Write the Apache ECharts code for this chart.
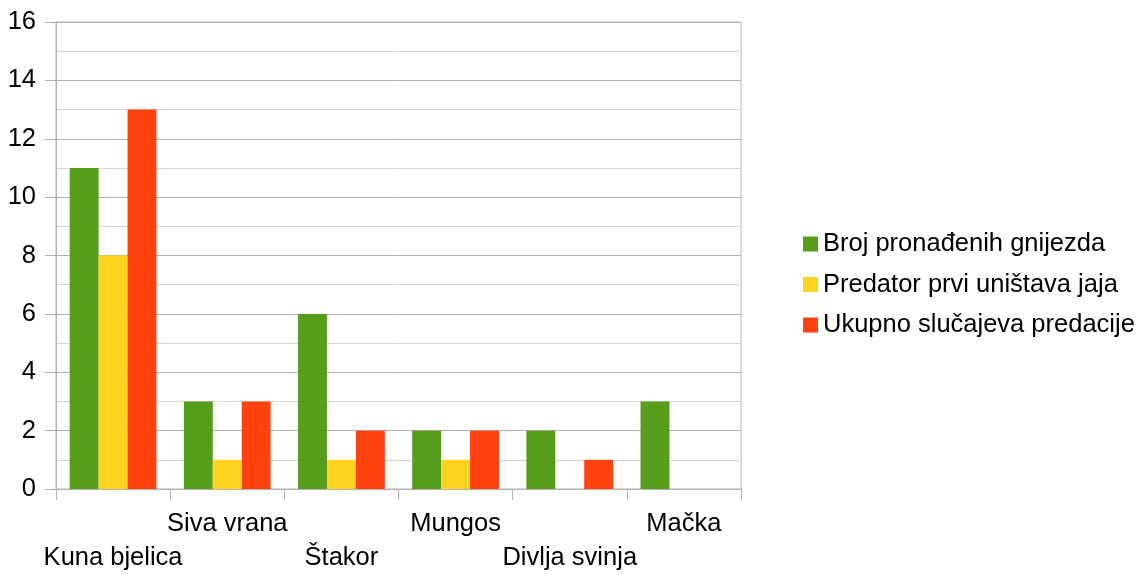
<!DOCTYPE html>
<html><head><meta charset="utf-8">
<script src="https://cdn.jsdelivr.net/npm/echarts@6/dist/echarts.min.js"></script>
<style>html,body{margin:0;padding:0;background:#fff}#c{width:1145px;height:575px}</style>
</head><body><div id="c"></div>
<script>
const categories = ['Kuna bjelica', 'Siva vrana', 'Štakor', 'Mungos', 'Divlja svinja', 'Mačka'];
const seriesNames = ['Broj pronađenih gnijezda', 'Predator prvi uništava jaja', 'Ukupno slučajeva predacije'];
const brojGnijezda = [11, 3, 6, 2, 2, 3];
const prviUnistava = [8, 1, 1, 1, 0, 0];
const ukupnoPredacije = [13, 3, 2, 2, 1, 0];
const colors = ['#579d1c', '#ffd320', '#ff420e'];
const font = 'Liberation Sans';
const grid = '#b3b3b3';

const chart = echarts.init(document.getElementById('c'), null, {renderer: 'canvas'});
const values = [brojGnijezda, prviUnistava, ukupnoPredacije];
chart.setOption({
  animation: false,
  color: colors,
  grid: {left: 56, right: 404, top: 22, bottom: 82, show: true, borderColor: grid, borderWidth: 1},
  legend: {
    orient: 'vertical', left: 798, top: 226,
    icon: 'rect', itemWidth: 15, itemHeight: 15, itemGap: 14.5,
    textStyle: {fontFamily: font, fontSize: 25.5, color: '#000', lineHeight: 26},
    data: seriesNames
  },
  xAxis: {
    type: 'category', data: categories,
    axisLine: {show: true, lineStyle: {color: grid}},
    axisTick: {show: true, length: 11, lineStyle: {color: grid}},
    axisLabel: {
      fontFamily: font, fontSize: 25.5, color: '#000', margin: 18, lineHeight: 34, interval: 0,
      formatter: (v, i) => (i % 2 === 0 ? '\n' + v : v)
    }
  },
  yAxis: {
    type: 'value', min: 0, max: 16, interval: 2,
    axisLine: {show: true, lineStyle: {color: grid}},
    axisTick: {show: true, length: 11, lineStyle: {color: grid}},
    axisLabel: {fontFamily: font, fontSize: 25.5, color: '#000', margin: 20},
    splitLine: {show: true, lineStyle: {color: grid}},
    minorTick: {show: false, splitNumber: 2},
    minorSplitLine: {show: true, lineStyle: {color: '#d6d6d6'}}
  },
  series: seriesNames.map((n, k) => ({
    name: n, type: 'bar', data: values[k], barGap: 0, barCategoryGap: '24%'
  }))
});
</script></body></html>
